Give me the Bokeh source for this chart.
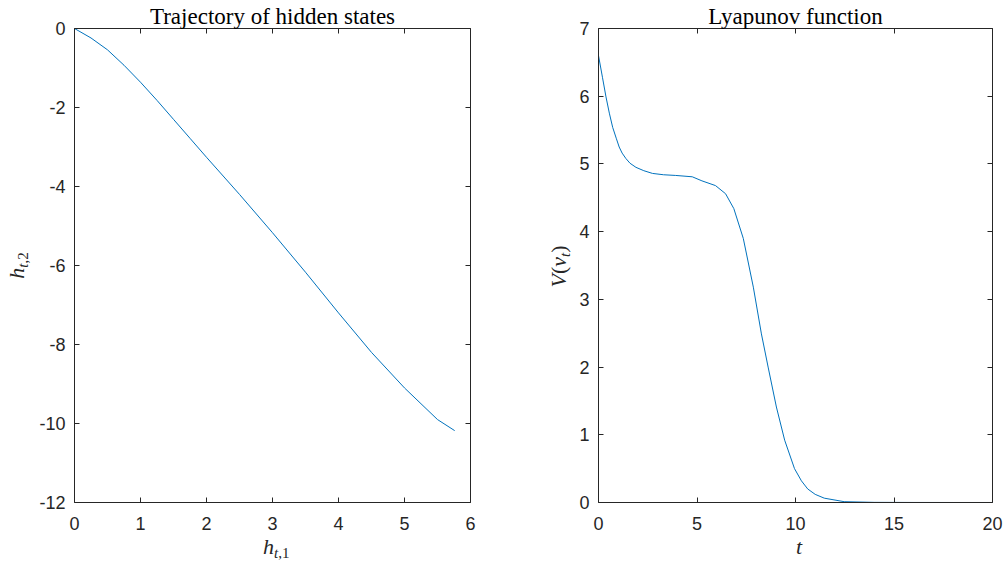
import math
from bokeh.plotting import figure
from bokeh.models import Range1d, LinearAxis, FixedTicker, Label
from bokeh.layouts import row, column
from bokeh.embed import file_html
from bokeh.resources import INLINE

# ---------------- data ----------------
# Left panel: trajectory of hidden states
h1 = [0.0, 0.25, 0.5, 0.75, 1.0, 1.25, 1.5, 1.75, 2.0, 2.5, 3.0, 3.5, 4.0, 4.5, 5.0, 5.5, 5.76]
h2 = [0.0, -0.24, -0.54, -0.93, -1.36, -1.82, -2.3, -2.78, -3.26, -4.2, -5.17, -6.17, -7.2, -8.2, -9.1, -9.9, -10.18]
left_xticks = [0, 1, 2, 3, 4, 5, 6]
left_yticks = [-12, -10, -8, -6, -4, -2, 0]

# Right panel: Lyapunov function
t_vals = [0, 0.2, 0.38, 0.55, 0.72, 0.9, 1.05, 1.2, 1.39, 1.6, 1.9, 2.3, 2.74, 3.3, 3.92, 4.76, 5.25,
          5.94, 6.45, 6.87, 7.35, 7.86, 8.27, 8.61, 9.03, 9.45, 9.95, 10.3, 10.62, 11.0, 11.46,
          12.47, 14, 16, 18, 20]
V_vals = [6.6, 6.28, 5.99, 5.75, 5.54, 5.38, 5.25, 5.16, 5.08, 5.01, 4.95, 4.9, 4.86, 4.84, 4.83,
          4.81, 4.75, 4.68, 4.56, 4.34, 3.9, 3.18, 2.49, 2.0, 1.41, 0.92, 0.50, 0.32, 0.20, 0.12,
          0.064, 0.012, 0.002, 0.0005, 0.0002, 0.0001]
right_xticks = [0, 5, 10, 15, 20]
right_yticks = [0, 1, 2, 3, 4, 5, 6, 7]

titles = ["Trajectory of hidden states", "Lyapunov function"]

AX = "#262626"
BLUE = "#0072BD"
SERIF = "Liberation Serif"
SANS = "Liberation Sans"
MAIN = 22
SUB = 15
SHIFT = 5
MID = 0.3375  # (ascent - descent) / 2 of the serif font, in em

W_IT = {"h": .5, "t": .278, "V": .611, "v": .444}
W_RM = {"(": .333, ")": .333, ",": .25, "1": .5, "2": .5}


def width_of(text, italic, size):
    tbl = W_IT if italic else W_RM
    return sum(tbl.get(c, .5) for c in text) * size


def math_label(f, x, y, pieces, vertical=False):
    """(x, y): baseline point at the centre of the whole formula."""
    total = sum(width_of(t, it, s) for t, it, s, sh in pieces)
    pos = -total / 2
    for text, italic, size, shift in pieces:
        down = shift - MID * size  # distance of anchor below the main baseline
        kw = dict(x=x, y=y, text=text, text_font=SERIF, text_font_size=f"{size}px",
                  text_font_style="italic" if italic else "normal",
                  text_color=AX, text_align="left", text_baseline="middle")
        if vertical:
            lab = Label(x_offset=down, y_offset=pos, angle=math.pi / 2, **kw)
        else:
            lab = Label(x_offset=pos, y_offset=-down, **kw)
        f.add_layout(lab)
        pos += width_of(text, italic, size)


def text_fig(w, h):
    return figure(width=w, height=h, x_range=Range1d(0, w), y_range=Range1d(0, h),
                  x_axis_type=None, y_axis_type=None, output_backend="svg",
                  toolbar_location=None, min_border=0, outline_line_color=None,
                  background_fill_color="white", border_fill_color="white")


def make_fig(w, h, xr, yr, xt, yt, bl, br, title):
    p = figure(width=w, height=h, x_range=Range1d(*xr), y_range=Range1d(*yr),
               x_axis_type=None, y_axis_type=None, output_backend="svg",
               toolbar_location=None, min_border_left=bl, min_border_right=br,
               min_border_top=28, min_border_bottom=33, outline_line_color=None,
               background_fill_color="white", border_fill_color="white")
    p.title.text = title
    p.title.text_font = SERIF
    p.title.text_font_size = "23px"
    p.title.text_font_style = "normal"
    p.title.text_color = "black"
    p.title.align = "center"
    p.title.standoff = 0
    p.title.offset = 0
    for loc, ticks, show, standoff in (("below", xt, True, 14), ("left", yt, True, 9),
                                       ("above", xt, False, 0), ("right", yt, False, 0)):
        ax = LinearAxis(ticker=FixedTicker(ticks=ticks), axis_line_color=AX, axis_line_width=1,
                        major_tick_line_color=AX, major_tick_in=5, major_tick_out=0,
                        minor_tick_line_color=None,
                        major_label_text_font=SANS, major_label_text_font_size="18px",
                        major_label_text_color=AX, major_label_standoff=standoff)
        if show:
            ax.major_label_overrides = {tk: str(tk) for tk in ticks}
        else:
            ax.major_label_overrides = {tk: "" for tk in ticks}
            ax.major_label_text_font_size = "0px"
        p.add_layout(ax, loc)
    return p


# ---------------- left block ----------------
ylab1 = text_fig(35, 565)
math_label(ylab1, 23, 565 - 265, [("h", True, MAIN, 0), ("t", True, SUB, SHIFT), (",2", False, SUB, SHIFT)],
           vertical=True)
p1 = make_fig(467, 535, (0, 6), (-12, 0), left_xticks, left_yticks, 39, 32, titles[0])
p1.line(h1, h2, line_color=BLUE, line_width=1)
xfig1 = text_fig(467, 30)
math_label(xfig1, 273 - 35, 565 - 553, [("h", True, MAIN, 0), ("t", True, SUB, SHIFT), (",1", False, SUB, SHIFT)])

# ---------------- right block ----------------
ylab2 = text_fig(74, 565)
math_label(ylab2, 565 - 502, 565 - 266, [("V", True, MAIN, 0), ("(", False, MAIN, 0), ("v", True, MAIN, 0),
                                         ("t", True, SUB, SHIFT), (")", False, MAIN, 0)], vertical=True)
p2 = make_fig(428, 535, (0, 20), (0, 7), right_xticks, right_yticks, 20, 12, titles[1])
p2.line(t_vals, V_vals, line_color=BLUE, line_width=1)
xfig2 = text_fig(428, 30)
math_label(xfig2, 794 - 576, 565 - 553, [("t", True, MAIN, 0)])

layout = row(ylab1, column(p1, xfig1), ylab2, column(p2, xfig2))
open("out.html", "w").write(file_html(layout, INLINE))
